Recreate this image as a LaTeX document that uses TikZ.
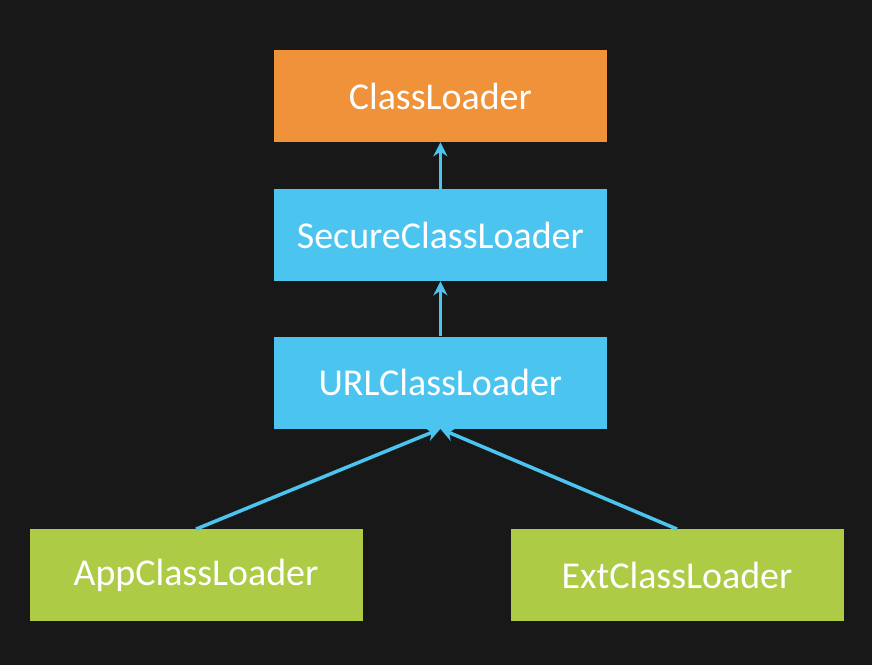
\documentclass[tikz,border=0pt]{standalone}
\usepackage{fontspec}
\setmainfont{Carlito}
\usepackage{xcolor}
\usepackage{tikz}
\usetikzlibrary{arrows.meta}
\definecolor{boardbg}{RGB}{24, 24, 24}
\definecolor{cborange}{RGB}{240, 146, 58}
\definecolor{cbblue}{RGB}{76, 196, 240}
\definecolor{cbgreen}{RGB}{173, 203, 69}

\tikzset{
  loader/.style={minimum width=8.325cm, minimum height=2.3cm, inner sep=0pt,
    text=white, font=\fontsize{27}{32}\selectfont},
  inherit/.style={cbblue, line width=2.5pt, -{Stealth[length=10pt, width=10pt]}}
}

\begin{document}
\begin{tikzpicture}
\fill[boardbg] (0,0) rectangle (21.8,16.625);
\node[loader, fill=cborange] (cl) at (11.01,14.225) {ClassLoader};
\node[loader, fill=cbblue] (scl) at (11.01,10.75) {SecureClassLoader};
\node[loader, fill=cbblue] (url) at (11.01,7.06) {URLClassLoader};
\node[loader, fill=cbgreen] (app) at (4.9,2.24) {AppClassLoader};
\node[loader, fill=cbgreen] (ext) at (16.925,2.24) {ExtClassLoader};

\draw[inherit] (scl.north) -- (cl.south);
\draw[inherit] (url.north) -- (scl.south);
\draw[inherit] (app.north) -- (url.south);
\draw[inherit] (ext.north) -- (url.south);
\end{tikzpicture}
\end{document}
